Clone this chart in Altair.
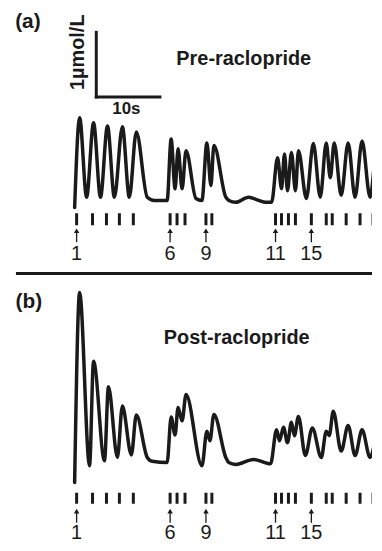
import altair as alt
import pandas as pd

# ---- data (time in s, concentration in µmol/L) ----
# stimulus times (20 stimuli)
STIM_T = [0.31, 2.81, 5.0, 7.03, 9.22, 15.0, 16.09, 17.34, 20.63, 21.56,
          31.56, 32.5, 33.59, 34.69, 37.19, 39.53, 40.47, 42.66, 44.84, 46.88]
LABELED_STIM = [1, 6, 9, 11, 15]

# Pre-raclopride trace
A_T = [0.0, 0.78, 1.88, 2.97, 4.06, 5.16, 6.25, 7.5, 8.59, 9.69, 11.41, 12.5, 14.53,
       15.16, 15.78, 16.25, 16.88, 17.5, 19.06, 20.0, 20.78, 21.41, 21.88, 23.75,
       24.22, 25.31, 27.34, 28.9, 30.0, 30.94, 31.88, 32.5, 32.97, 33.44, 34.06,
       34.69, 35.16, 36.41, 37.5, 38.59, 39.53, 40.16, 40.78, 41.88, 42.97, 44.06,
       45.16, 46.41, 47.5, 48.2]
A_C = [-0.11, 1.28, 0.05, 1.20, 0.05, 1.15, 0.05, 1.14, 0.05, 1.06, 0.05, 0.0, 0.0,
       0.95, 0.18, 0.80, 0.18, 0.77, 0.03, 0.0, 0.89, 0.23, 0.85, 0.05,
       0.0, -0.03, 0.05, 0.0, -0.03, -0.03, 0.66, 0.18, 0.72, 0.15, 0.74,
       0.15, 0.77, 0.03, 0.88, 0.05, 0.89, 0.35, 0.89, 0.08, 0.89, 0.05,
       0.92, 0.05, 0.82, 0.35]

# Post-raclopride trace
B_T = [0.0, 0.78, 2.34, 2.97, 4.69, 5.31, 6.72, 7.5, 8.91, 9.69, 11.41, 12.19, 14.53,
       15.16, 15.78, 16.25, 16.88, 17.5, 20.0, 20.78, 21.25, 21.88, 23.75, 24.22,
       25.31, 28.13, 30.78, 31.72, 32.19, 32.81, 33.44, 34.06, 34.53, 35.16, 36.25,
       37.34, 38.75, 39.53, 40.0, 40.63, 41.88, 42.97, 44.06, 45.16, 46.41, 47.66, 48.2]
B_C = [-0.31, 2.65, -0.05, 1.58, 0.03, 1.18, 0.08, 0.88, 0.12, 0.74, 0.08, 0.02, 0.0,
       0.71, 0.43, 0.86, 0.65, 1.06, -0.05, 0.49, 0.34, 0.75, 0.08, 0.0,
       -0.03, 0.05, -0.02, 0.51, 0.34, 0.55, 0.31, 0.63, 0.42, 0.72, 0.11,
       0.54, 0.08, 0.49, 0.42, 0.80, 0.18, 0.58, 0.11, 0.51, 0.08, 0.43, 0.30]

# scale bar (10 s, 1 µmol/L)
SB_T0, SB_C0 = 3.4, 1.6
SB_DT, SB_DC = 10, 1

X_DOM = [-10.47, 46.72]
FONT = "Liberation Sans"
INK = "#1a1a1a"
W = 366

stim_df = pd.DataFrame({"t": STIM_T})
lab_df = pd.DataFrame({"t": [STIM_T[n - 1] for n in LABELED_STIM],
                       "label": [str(n) for n in LABELED_STIM]})


def panel(tt, cc, ydom, height, tick_y, arrow_y, label_y, letter, letter_xy,
          title, title_xy, extra=None):
    xs = alt.Scale(domain=X_DOM)
    ys = alt.Scale(domain=ydom)
    base_x = alt.X("t:Q", scale=xs, axis=None)
    trace = alt.Chart(pd.DataFrame({"t": tt, "c": cc})).mark_line(
        interpolate="monotone", strokeWidth=3.5, color=INK, clip=True,
        strokeJoin="round", strokeCap="round"
    ).encode(x=base_x, y=alt.Y("c:Q", scale=ys, axis=None))
    ticks = alt.Chart(stim_df).mark_rule(strokeWidth=3, color=INK, clip=True).encode(
        x=base_x, y=alt.value(tick_y[0]), y2=alt.value(tick_y[1]))
    shafts = alt.Chart(lab_df).mark_rule(strokeWidth=1.3, color=INK).encode(
        x=base_x, y=alt.value(arrow_y[0] + 3), y2=alt.value(arrow_y[1]))
    heads = alt.Chart(lab_df).mark_point(
        shape="triangle-up", filled=True, size=30, opacity=1, color=INK
    ).encode(x=base_x, y=alt.value(arrow_y[0] + 2.5))
    labels = alt.Chart(lab_df).mark_text(
        font=FONT, fontSize=20, color=INK, baseline="middle", align="center"
    ).encode(x=base_x, y=alt.value(label_y), text="label:N")
    let = alt.Chart(pd.DataFrame({"s": [letter]})).mark_text(
        font=FONT, fontSize=21, fontWeight="bold", color=INK,
        baseline="middle", align="center"
    ).encode(x=alt.value(letter_xy[0]), y=alt.value(letter_xy[1]), text="s:N")
    ttl = alt.Chart(pd.DataFrame({"s": [title]})).mark_text(
        font=FONT, fontSize=20, fontWeight="bold", color=INK,
        baseline="middle", align="center"
    ).encode(x=alt.value(title_xy[0]), y=alt.value(title_xy[1]), text="s:N")
    layers = [trace, ticks, shafts, heads, labels, let, ttl]
    if extra is not None:
        layers += extra(base_x, ys)
    return alt.layer(*layers).properties(width=W, height=height)


def scale_bar(base_x, ys):
    sb = pd.DataFrame({"t": [SB_T0], "t2": [SB_T0 + SB_DT],
                       "c": [SB_C0], "c2": [SB_C0 + SB_DC]})
    vert = alt.Chart(sb).mark_rule(strokeWidth=3, color=INK, strokeCap="square").encode(
        x=base_x, y=alt.Y("c:Q", scale=ys, axis=None), y2="c2:Q")
    horiz = alt.Chart(sb).mark_rule(strokeWidth=3, color=INK, strokeCap="square").encode(
        x=base_x, x2="t2:Q", y=alt.Y("c:Q", scale=ys, axis=None))
    t_lab = alt.Chart(pd.DataFrame({"s": [f"{SB_DT}s"]})).mark_text(
        font=FONT, fontSize=17, fontWeight="bold", color=INK,
        baseline="middle", align="center"
    ).encode(x=alt.value(119), y=alt.value(100), text="s:N")
    c_lab = alt.Chart(pd.DataFrame({"s": [f"{SB_DC}µmol/L"]})).mark_text(
        font=FONT, fontSize=20, fontWeight="bold", color=INK, angle=270,
        baseline="middle", align="center"
    ).encode(x=alt.value(70), y=alt.value(43), text="s:N")
    return [vert, horiz, t_lab, c_lab]


def divider(base_x, ys):
    return [alt.Chart(pd.DataFrame({"k": [0]})).mark_rule(strokeWidth=3, color=INK).encode(
        x=alt.value(8), x2=alt.value(W), y=alt.value(3.5))]


pa = panel(A_T, A_C, [-1.077, 2.954], 262, (205, 217), (220, 234), 246,
           "(a)", (20, 13), "Pre-raclopride", (237, 50), extra=scale_bar)
pb = panel(B_T, B_C, [-1.23, 3.0], 273, (224, 235), (240, 254), 264,
           "(b)", (21, 32), "Post-raclopride", (230, 68), extra=divider)

chart = alt.vconcat(pa, pb, spacing=0).properties(
    padding=0
).configure_view(stroke=None)

chart.save("out.html", embed_options={"renderer": "svg", "actions": False})
